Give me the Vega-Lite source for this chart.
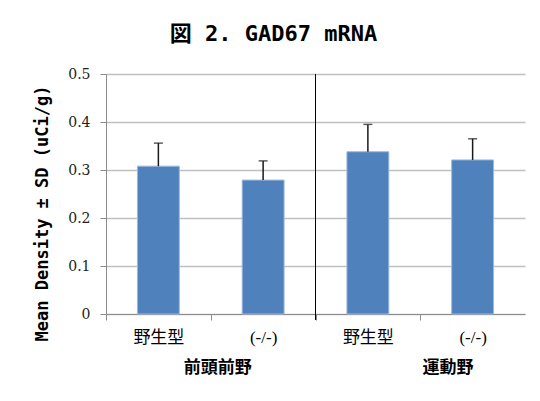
{
  "$schema": "https://vega.github.io/schema/vega-lite/v6.json",
  "width": 419,
  "height": 240,
  "autosize": {"type": "none"},
  "padding": {"left": 106, "top": 74, "right": 15, "bottom": 87},
  "background": "white",
  "title": {
    "text": "図 2. GAD67 mRNA",
    "font": "DejaVu Sans Mono, Noto Sans CJK JP",
    "fontWeight": "bold",
    "fontSize": 22,
    "color": "black",
    "anchor": "middle",
    "dx": -42,
    "offset": 21
  },
  "data": {
    "values": [
      {"key": "前頭前野|野生型", "region": "前頭前野", "genotype": "野生型", "mean": 0.308, "upper": 0.356},
      {"key": "前頭前野|(-/-)", "region": "前頭前野", "genotype": "(-/-)", "mean": 0.279, "upper": 0.319},
      {"key": "運動野|野生型", "region": "運動野", "genotype": "野生型", "mean": 0.338, "upper": 0.395},
      {"key": "運動野|(-/-)", "region": "運動野", "genotype": "(-/-)", "mean": 0.321, "upper": 0.365}
    ]
  },
  "encoding": {
    "x": {
      "field": "key",
      "type": "nominal",
      "sort": null,
      "scale": {"paddingInner": 0.6, "paddingOuter": 0.3},
      "axis": {
        "title": null,
        "labelExpr": "split(datum.value, '|')[1]",
        "labelAngle": 0,
        "tickOffset": -52.375,
        "labelOffset": 52.375,
        "labelFont": "Liberation Serif, Noto Sans CJK JP",
        "labelFontSize": 17,
        "labelColor": "black",
        "tickSize": 6,
        "labelPadding": 9,
        "domainColor": "#8c8c8c",
        "tickColor": "#8c8c8c",
        "grid": false
      }
    }
  },
  "layer": [
    {
      "mark": {"type": "bar", "color": "#4F81BD", "stroke": "#9DB9DC", "strokeWidth": 1},
      "encoding": {
        "y": {
          "field": "mean",
          "type": "quantitative",
          "scale": {"domain": [0, 0.5]},
          "axis": {
            "title": "Mean Density ± SD  (uCi/g)",
            "values": [0, 0.1, 0.2, 0.3, 0.4, 0.5],
            "format": "~g",
            "grid": true,
            "gridColor": "#c0c0c0",
            "gridWidth": 1.5,
            "domainColor": "#8c8c8c",
            "tickColor": "#8c8c8c",
            "tickSize": 6,
            "labelFont": "DejaVu Serif",
            "labelFontSize": 14,
            "labelColor": "#222",
            "labelPadding": 10,
            "titleFont": "DejaVu Sans Mono, Noto Sans CJK JP",
            "titleFontWeight": "bold",
            "titleFontSize": 17,
            "titleColor": "black",
            "titlePadding": 16,
            "titleY": 139
          }
        }
      }
    },
    {
      "mark": {"type": "rule", "color": "#1a1a1a", "strokeWidth": 1.5},
      "encoding": {
        "y": {"field": "mean", "type": "quantitative"},
        "y2": {"field": "upper"}
      }
    },
    {
      "mark": {"type": "tick", "color": "#1a1a1a", "size": 9, "thickness": 1.5},
      "encoding": {
        "y": {"field": "upper", "type": "quantitative"}
      }
    },
    {
      "transform": [{"filter": "datum.key === '運動野|野生型'"}],
      "mark": {"type": "rule", "color": "black", "strokeWidth": 1, "y2Offset": 6},
      "encoding": {
        "x": {"field": "key", "type": "nominal", "sort": null, "bandPosition": -0.75},
        "y": {"datum": 0.5},
        "y2": {"datum": 0}
      }
    },
    {
      "transform": [{"filter": "datum.key === '前頭前野|(-/-)'"}],
      "mark": {"type": "text", "font": "Noto Sans CJK JP", "fontWeight": "bold", "fontSize": 17, "dy": 54, "baseline": "middle", "color": "black"},
      "encoding": {
        "x": {"field": "key", "type": "nominal", "sort": null, "bandPosition": -0.58},
        "y": {"datum": 0},
        "text": {"field": "region"}
      }
    },
    {
      "transform": [{"filter": "datum.key === '運動野|(-/-)'"}],
      "mark": {"type": "text", "font": "Noto Sans CJK JP", "fontWeight": "bold", "fontSize": 17, "dy": 54, "baseline": "middle", "color": "black"},
      "encoding": {
        "x": {"field": "key", "type": "nominal", "sort": null, "bandPosition": -0.09},
        "y": {"datum": 0},
        "text": {"field": "region"}
      }
    }
  ],
  "config": {"view": {"stroke": null}}
}
